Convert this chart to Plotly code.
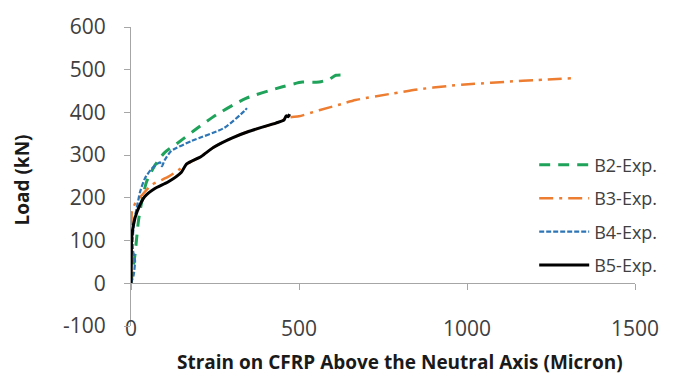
import plotly.graph_objects as go

# ---- data (strain in micron, load in kN) ----
b2_strain = [0, 5, 12, 22, 32, 46, 71, 100, 140, 199, 253, 342, 451, 510, 560, 590, 610, 635]
b2_load   = [0, 30, 68, 145, 191, 237, 276, 306, 329, 364, 394, 433, 460, 471, 471, 478, 487, 488]

b3_strain = [0, 2, 3, 15, 32, 61, 110, 140, 165, 209, 245, 300, 352, 431, 470, 500, 560, 628, 668, 776, 855, 944, 1023, 1121, 1210, 1310]
b3_load   = [0, 100, 170, 190, 206, 230, 249, 264, 279, 297, 318, 340, 356, 375, 388, 391, 405, 420, 429, 444, 454, 462, 467, 472, 476, 480]

b4_strain = [0, 8, 12, 6, 5, 10, 17, 27, 41, 61, 86, 92, 100, 120, 180, 278, 337, 345]
b4_load   = [0, 20, 53, 76, 100, 150, 176, 214, 245, 268, 283, 274, 288, 310, 333, 364, 403, 410]

b5_strain = [0, 1, 2, 12, 27, 41, 71, 110, 150, 165, 209, 245, 300, 352, 431, 455, 462, 468, 472]
b5_load   = [0, 50, 107, 153, 184, 203, 222, 237, 260, 279, 297, 318, 340, 356, 375, 382, 392, 390, 396]

series_names = ["B2-Exp.", "B3-Exp.", "B4-Exp.", "B5-Exp."]
x_ticks = [0, 500, 1000, 1500]
y_ticks = [-100, 0, 100, 200, 300, 400, 500, 600]
y_tick_text = ["-100", "0", "100", "200", "300", "400", "500", "600"]

fig = go.Figure()
styles = [
    dict(color="#1FA35A", width=3, dash="11px,8px"),
    dict(color="#ED7D31", width=2.5, dash="14px,6px,3px,6px"),
    dict(color="#2E75B6", width=2.2, dash="5px,2px"),
    dict(color="#000000", width=3, dash="solid"),
]
for name, xs, ys, st in zip(series_names,
                            [b2_strain, b3_strain, b4_strain, b5_strain],
                            [b2_load, b3_load, b4_load, b5_load], styles):
    fig.add_trace(go.Scatter(x=xs, y=ys, mode="lines", name=name,
                             line=dict(**st, shape="spline", smoothing=0.6),
                             legendgroup=name))

# dummy trace to carry the axis line drawn at y = 0
fig.add_trace(go.Scatter(x=[None], y=[None], xaxis="x2", showlegend=False,
                         hoverinfo="skip"))

axis_gray = "#A6A6A6"
tick_font = dict(family="Open Sans", size=21, color="#404040")

fig.update_layout(
    width=674, height=381,
    margin=dict(l=131, r=39, t=22, b=55),
    paper_bgcolor="white", plot_bgcolor="white",
    showlegend=True,
    legend=dict(x=0.80, y=0.60, xanchor="left", yanchor="top",
                font=dict(family="Open Sans", size=18, color="#404040"),
                itemwidth=50, tracegroupgap=7, bgcolor="rgba(0,0,0,0)"),
    xaxis=dict(range=[0, 1500], tickvals=x_ticks, showline=False, ticks="",
               showgrid=False, zeroline=False, tickfont=tick_font,
               ticklabelstandoff=-12),
    xaxis2=dict(range=[0, 1500], tickvals=x_ticks, overlaying="x", anchor="free",
                position=100 / 700, showline=True, linecolor=axis_gray, linewidth=1,
                ticks="outside", ticklen=6, tickcolor=axis_gray,
                showticklabels=False, showgrid=False, zeroline=False),
    yaxis=dict(range=[-100, 600], tickvals=y_ticks, ticktext=y_tick_text,
               showline=True, linecolor=axis_gray,
               linewidth=1, ticks="outside", ticklen=6, tickcolor=axis_gray,
               showgrid=False, zeroline=False, tickfont=tick_font,
               ticklabelstandoff=14),
    annotations=[
        dict(text="<b>Strain on CFRP Above the Neutral Axis (Micron)</b>",
             xref="paper", yref="paper", x=0.534, y=0, yshift=-36,
             xanchor="center", yanchor="middle", showarrow=False,
             font=dict(family="Open Sans", size=19, color="#1a1a1a")),
        dict(text="<b>Load (kN)</b>", textangle=-90,
             xref="paper", yref="paper", x=-0.216, y=0.487,
             xanchor="center", yanchor="middle", showarrow=False,
             font=dict(family="Open Sans", size=19, color="#1a1a1a")),
    ],
)

fig.write_html("out.html")
